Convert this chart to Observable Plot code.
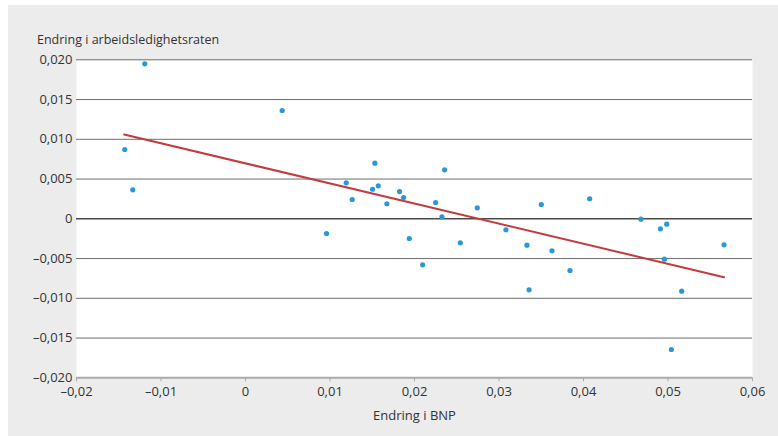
<!DOCTYPE html>
<html>
<head>
<meta charset="utf-8">
<script src="https://cdn.jsdelivr.net/npm/d3@7"></script>
<script src="https://cdn.jsdelivr.net/npm/@observablehq/plot@0.6"></script>
<style>
  html, body { margin: 0; padding: 0; background: #ffffff; }
  #panel {
    position: absolute; left: 8px; top: 5px; width: 770px; height: 431px;
    background: #ececec; font-family: "Open Sans", "Noto Sans", sans-serif; color: #333;
  }
  #title {
    box-sizing: border-box; height: 48px; padding-top: 27px; padding-left: 29px;
    font-size: 12.5px; line-height: 16px; color: #333;
  }
</style>
</head>
<body>
<div id="panel">
  <div id="title">Endring i arbeidsledighetsraten</div>
  <div id="chart"></div>
</div>
<script>
// Endring i BNP (x) and Endring i arbeidsledighetsraten (y)
const gdpChange = [
  -0.01429, -0.01334, -0.01192, 0.00434, 0.00959, 0.01192, 0.01263, 0.01504,
  0.01531, 0.01571, 0.01673, 0.01823, 0.01871, 0.01938, 0.02096, 0.02250,
  0.02325, 0.02356, 0.02542, 0.02743, 0.03082, 0.03331, 0.03356, 0.03501,
  0.03627, 0.03840, 0.04073, 0.04680, 0.04910, 0.04985, 0.04957, 0.05162,
  0.05040, 0.05663
];
const unemploymentChange = [
  0.00872, 0.00365, 0.01950, 0.01362, -0.00185, 0.00453, 0.00243, 0.00372,
  0.00700, 0.00415, 0.00189, 0.00343, 0.00268, -0.00248, -0.00579, 0.00205,
  0.00025, 0.00616, -0.00302, 0.00138, -0.00138, -0.00332, -0.00893, 0.00180,
  -0.00403, -0.00650, 0.00252, -0.00005, -0.00126, -0.00068, -0.00508, -0.00910,
  -0.01644, -0.00327
];
// Trend line end points
const trendX = [-0.01436, 0.05663];
const trendY = [0.01060, -0.00734];

const xTicks = [-0.02, -0.01, 0, 0.01, 0.02, 0.03, 0.04, 0.05, 0.06];
const yTicks = [-0.02, -0.015, -0.01, -0.005, 0, 0.005, 0.01, 0.015, 0.02];

const points = gdpChange.map((x, i) => ({x, y: unemploymentChange[i]}));
const trend = trendX.map((x, i) => ({x, y: trendY[i]}));

const fmt = (digits) => (v) => v === 0 ? "0" :
  (v < 0 ? "–" : "") + Math.abs(v).toFixed(digits).replace(".", ",");

const gridLines = yTicks.filter(v => v !== 0 && v !== -0.02);

const chart = Plot.plot({
  width: 770,
  height: 383,
  marginLeft: 68,
  marginRight: 26,
  marginTop: 6.3,
  marginBottom: 58.7,
  style: {fontFamily: "'Open Sans', 'Noto Sans', sans-serif", fontSize: "13px", color: "#333", background: "transparent", overflow: "visible"},
  x: {domain: [-0.02, 0.06]},
  y: {domain: [-0.02, 0.02]},
  marks: [
    Plot.frame({fill: "white", stroke: null}),
    Plot.ruleY(gridLines, {stroke: "#6e6e6e", strokeWidth: 1}),
    Plot.ruleY([-0.02], {stroke: "#aaaaaa", strokeWidth: 2}),
    Plot.ruleY([0], {stroke: "#4a4a4a", strokeWidth: 1.6}),
    Plot.axisY({ticks: yTicks, tickSize: 0, tickPadding: 4, tickFormat: fmt(3), label: null, fill: "#333"}),
    Plot.axisX({ticks: xTicks, tickSize: 4, tickPadding: 4.5, tickFormat: fmt(2), stroke: "#aaaaaa", fill: "#333",
      label: "Endring i BNP", labelAnchor: "center", labelOffset: 42, labelArrow: "none"}),
    Plot.line(trend, {x: "x", y: "y", stroke: "#c23b3d", strokeWidth: 2}),
    Plot.dot(points, {x: "x", y: "y", r: 2.6, fill: "#2a98d5", stroke: null})
  ]
});
document.getElementById("chart").appendChild(chart);
</script>
</body>
</html>
